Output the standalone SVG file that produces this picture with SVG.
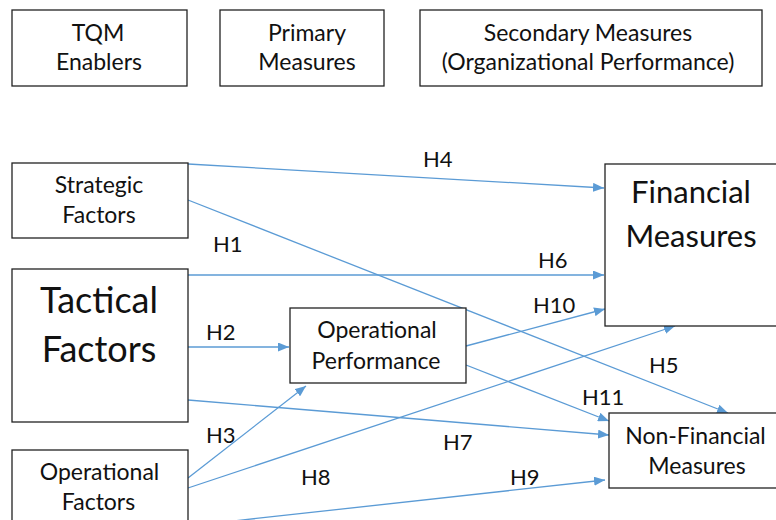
<svg xmlns="http://www.w3.org/2000/svg" width="776" height="520" viewBox="0 0 776 520">
<style>
.box{fill:#fff;stroke:#222;stroke-width:1.3}
.t{font-family:Lato,"Liberation Sans",sans-serif;fill:#111;text-anchor:middle}
.s23{font-size:23px}
.lbl{font-family:Lato,"Liberation Sans",sans-serif;font-size:22px;fill:#111}
.c{stroke:#5B9BD5;stroke-width:1.3;fill:none;marker-end:url(#ah)}
</style>
<defs>
<marker id="ah" markerUnits="userSpaceOnUse" markerWidth="11" markerHeight="9" refX="11" refY="4.5" orient="auto">
<path d="M0,0 L11,4.5 L0,9 z" fill="#5B9BD5"/>
</marker>
</defs>
<rect width="776" height="520" fill="#fff"/>
<g id="connectors">
<line class="c" x1="188" y1="164" x2="604" y2="188"/>
<line class="c" x1="188" y1="200" x2="728" y2="413"/>
<line class="c" x1="188" y1="275" x2="604" y2="275"/>
<line class="c" x1="188" y1="347" x2="289" y2="347"/>
<line class="c" x1="188" y1="400" x2="609" y2="435"/>
<line class="c" x1="188" y1="478" x2="306" y2="386"/>
<line class="c" x1="188" y1="488" x2="675" y2="326"/>
<line class="c" x1="188" y1="526" x2="605" y2="480"/>
<line class="c" x1="466" y1="346" x2="605" y2="309"/>
<line class="c" x1="466" y1="365" x2="609" y2="421"/>
</g>
<g id="labels">
<text class="lbl" x="423" y="167">H4</text>
<text class="lbl" x="213" y="252">H1</text>
<text class="lbl" x="538" y="268">H6</text>
<text class="lbl" x="533" y="313">H10</text>
<text class="lbl" x="206" y="340">H2</text>
<text class="lbl" x="649" y="373">H5</text>
<text class="lbl" x="582" y="405">H11</text>
<text class="lbl" x="206" y="443">H3</text>
<text class="lbl" x="443" y="450">H7</text>
<text class="lbl" x="301" y="485">H8</text>
<text class="lbl" x="510" y="485">H9</text>
</g>
<g id="tqm-enablers">
<rect class="box" x="12" y="10" width="175" height="76"/>
<text class="t s23" x="98" y="41">TQM</text>
<text class="t s23" x="99" y="70">Enablers</text>
</g>
<g id="primary-measures">
<rect class="box" x="220" y="10" width="164" height="76"/>
<text class="t s23" x="307" y="41">Primary</text>
<text class="t s23" x="307" y="70">Measures</text>
</g>
<g id="secondary-measures">
<rect class="box" x="420" y="10" width="342" height="76"/>
<text class="t s23" x="588" y="41">Secondary Measures</text>
<text class="t s23" x="588" y="70">(Organizational Performance)</text>
</g>
<g id="strategic-factors">
<rect class="box" x="12" y="163" width="176" height="75"/>
<text class="t s23" x="99" y="193">Strategic</text>
<text class="t s23" x="99" y="223">Factors</text>
</g>
<g id="tactical-factors">
<rect class="box" x="12" y="269" width="176" height="153"/>
<text class="t" style="font-size:36px" x="99" y="313">Tactical</text>
<text class="t" style="font-size:36px" x="99" y="362">Factors</text>
</g>
<g id="operational-factors">
<rect class="box" x="12" y="450" width="176" height="90"/>
<text class="t s23" x="99.5" y="480">Operational</text>
<text class="t s23" x="98.5" y="510">Factors</text>
</g>
<g id="operational-performance">
<rect class="box" x="290" y="308" width="176" height="75"/>
<text class="t s23" x="377" y="338">Operational</text>
<text class="t s23" x="376" y="369">Performance</text>
</g>
<g id="financial-measures">
<rect class="box" x="605" y="164" width="190" height="162"/>
<text class="t" style="font-size:31px" x="691" y="203">Financial</text>
<text class="t" style="font-size:31px" x="691" y="247">Measures</text>
</g>
<g id="non-financial-measures">
<rect class="box" x="609" y="413" width="190" height="75"/>
<text class="t s23" x="695.5" y="444">Non-Financial</text>
<text class="t s23" x="697" y="474">Measures</text>
</g>
</svg>
